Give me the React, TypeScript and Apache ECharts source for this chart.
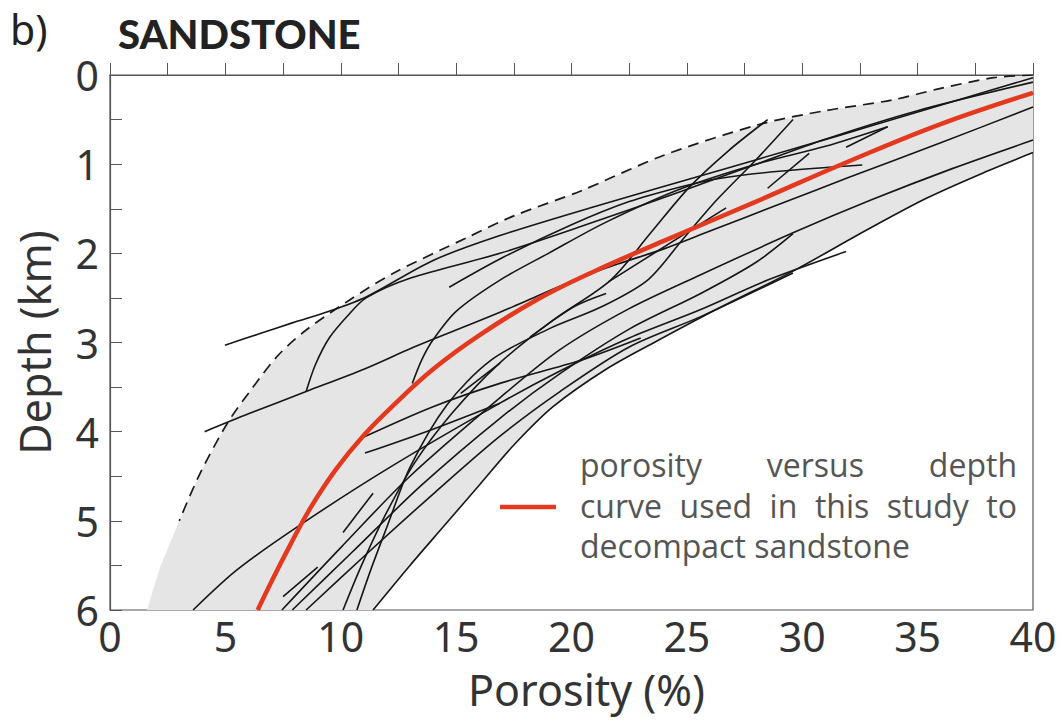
import React, { useEffect, useRef } from "react";
import * as echarts from "echarts";

// ---- data: [porosity %, depth km] ----
const xTicks = [0, 5, 10, 15, 20, 25, 30, 35, 40];
const yTicks = [0, 1, 2, 3, 4, 5, 6];

const redCurve = [[40,0.2],[36,0.55],[32,0.97],[28,1.42],[24,1.86],[21,2.2],[18.5,2.52],[16,2.92],[14,3.3],[12.3,3.7],[11,4.04],[9.8,4.42],[8.7,4.85],[7.75,5.3],[7.0,5.68],[6.4,6]];

const dashedEnvelope = [[40,0],[38.3,0.03],[36,0.15],[33.9,0.28],[31,0.4],[28.2,0.55],[24,0.9],[20.4,1.3],[17.5,1.58],[15.5,1.82],[12.3,2.22],[10.4,2.52],[8.5,2.86],[7.3,3.14],[6.2,3.5],[5.1,3.9],[3.9,4.47],[3.0,5.0]];
const envelopeTail = [[3.0,5.0],[2.2,5.5],[1.6,6]];

const lineR1 = [[11.4,6],[13,5.5],[14.5,5.05],[16,4.6],[17.5,4.15],[19.2,3.72],[21.5,3.3],[23.8,2.97],[26.5,2.6],[29.6,2.2],[32.5,1.78],[35.4,1.38],[38,1.08],[40,0.87]];
const lineR2 = [[7.45,6],[10,5.3],[13,4.5],[16.9,3.62],[19.5,3.08],[22.5,2.62],[25.6,2.24],[29.6,1.77],[33,1.4],[36.5,1.05],[40,0.73]];
const lineC1 = [[4.98,3.03],[6.5,2.9],[7.9,2.78],[9.5,2.65],[11.1,2.49],[14,2.08],[16.9,1.8],[21.2,1.46],[26.4,1.07],[30,0.8],[33,0.57],[36.5,0.3],[40,0.03]];
const lineC2 = [[8.5,3.55],[8.9,3.25],[9.5,2.95],[10.3,2.7],[11.1,2.5],[13,2.28],[16.9,2.0],[20.4,1.7],[24.8,1.3],[28,1.0],[31,0.72],[35,0.4],[40,0.08]];
const lineC3 = [[4.1,4.0],[6,3.8],[8.5,3.55],[11,3.3],[13.1,3.06],[15,2.86],[16.9,2.66],[18.6,2.47],[20.4,2.27],[22,2.12],[24,1.95],[26,1.75],[29,1.45],[32,1.15],[36,0.76],[40,0.36]];
const lineArc2 = [[13.1,3.46],[13.5,3.2],[14,2.97],[15,2.65],[16.9,2.3],[19,2.0],[21.5,1.65],[24.8,1.27],[28,1.0],[31,0.8],[33.7,0.58]];
const lineH = [[14.7,2.38],[17,2.05],[20,1.68],[22.5,1.42],[24.8,1.25],[26.4,1.16],[29,1.08],[32.6,1.01]];
const lineS1 = [[10.1,6],[10.9,5.5],[11.9,4.95],[13.2,4.35],[14.8,3.8],[16.8,3.25],[19.2,2.75],[21.7,2.3],[23.4,1.78],[25.1,1.26],[26.8,0.85],[28.5,0.5]];
const lineS2 = [[10.7,6],[11.3,5.55],[12,5.07],[13,4.4],[14.6,3.7],[16.5,3.2],[19,2.85],[21.3,2.6],[23.3,2.3],[24.8,1.85],[26.3,1.4],[28,0.95],[29.6,0.5]];
const lineM1 = [[3.6,6],[5.5,5.55],[8.1,5.07],[12,4.42],[16.9,3.68],[19.5,3.32],[22.5,2.95],[25.6,2.63],[28.5,2.3],[31.9,1.98]];
const lineB2 = [[7.9,6],[10.5,5.35],[13.5,4.6],[16.9,3.85],[19.5,3.35],[22.5,2.85],[25.6,2.45],[28,2.1],[29.6,1.78]];
const lineB3 = [[8.5,6],[11,5.4],[14,4.7],[16.9,4.05],[19.5,3.55],[22.5,3.05],[25.6,2.71],[29.6,2.22]];
const lineRed1 = [[11,4.06],[14,3.72],[17,3.45],[20.4,3.2],[23,2.95]];
const lineRed2 = [[11.05,4.24],[13.7,4.0],[16.9,3.68]];
const segA = [[10.1,5.13],[11.4,4.69]];
const segB = [[7.5,5.85],[9.0,5.52]];
const segC = [[31.9,0.81],[33.7,0.58]];
const segD = [[28.5,1.27],[30.3,0.88]];
const segE = [[21.6,2.32],[26.7,1.49]];
const segF = [[18.2,2.94],[20.1,2.6],[21.5,2.45]];
const segG = [[15.2,3.57],[16.9,3.23]];

const blackLines = [lineR1, lineR2, lineC1, lineC2, lineC3, lineArc2, lineH, lineS1, lineS2, lineM1, lineB2, lineB3, lineRed1, lineRed2, segA, segB, segC, segD, segE, segF, segG];

const legendLines = ["porosity versus depth", "curve used in this study to", "decompact sandstone"];

const FONT = "'Noto Sans', sans-serif";
const LEG_FONT_SIZE = 32;
const LEG_FONT = "'Open Sans', 'Noto Sans', sans-serif";

function justifiedWords(text: string, x0: number, x1: number, y: number) {
  const words = text.split(" ");
  const ctx = document.createElement("canvas").getContext("2d")!;
  ctx.font = `${LEG_FONT_SIZE}px 'Open Sans'`;
  const widths = words.map((w) => ctx.measureText(w).width);
  const total = widths.reduce((a, b) => a + b, 0);
  const gap = words.length > 1 ? (x1 - x0 - total) / (words.length - 1) : 0;
  let x = x0;
  return words.map((w, i) => {
    const el = { type: "text", x, y, style: { text: w, fontSize: LEG_FONT_SIZE, fill: "#555", fontFamily: LEG_FONT, textVerticalAlign: "middle", textAlign: "left" } };
    x += widths[i] + gap;
    return el;
  });
}

export default function App() {
  const ref = useRef<HTMLDivElement>(null);
  useEffect(() => {
    if (!ref.current) return;
    const chart = echarts.init(ref.current, undefined, { renderer: "svg" });
    const fillPoly = [...dashedEnvelope, ...envelopeTail.slice(1), ...lineR1];

    const series: any[] = [
      {
        type: "custom",
        silent: true,
        z: 1,
        data: [[0, 0]],
        renderItem: (_p: any, api: any) => ({
          type: "polygon",
          shape: { points: fillPoly.map((p) => api.coord(p)) },
          style: { fill: "#e5e5e5" },
        }),
      },
      {
        type: "line",
        data: dashedEnvelope,
        smooth: 0.3,
        symbol: "none",
        z: 3,
        lineStyle: { color: "#1a1a1a", width: 1.7, type: [11, 7] },
      },
      ...blackLines.map((d) => ({
        type: "line",
        data: d,
        smooth: 0.3,
        symbol: "none",
        z: 4,
        lineStyle: { color: "#161616", width: 1.6 },
      })),
      {
        type: "line",
        data: redCurve,
        smooth: 0.4,
        symbol: "none",
        z: 5,
        lineStyle: { color: "#e2391f", width: 4.5 },
      },
    ];

    chart.setOption({
      animation: false,
      grid: { left: 110, right: 29, top: 75, bottom: 114, show: true, borderColor: "#555", borderWidth: 1.2, backgroundColor: "transparent" },
      xAxis: {
        type: "value", min: 0, max: 40, interval: 5,
        axisLine: { lineStyle: { color: "#555", width: 1.2 } },
        axisTick: { inside: true, length: 12, lineStyle: { color: "#555" } },
        minorTick: { show: true, splitNumber: 2, length: 12, lineStyle: { color: "#555" } },
        splitLine: { show: false },
        axisLabel: { fontSize: 41, color: "#333", fontFamily: FONT, margin: 5, formatter: (v: number) => (xTicks.includes(v) ? String(v) : "") },
        name: "Porosity (%)", nameLocation: "middle", nameGap: 58,
        nameTextStyle: { fontSize: 43, color: "#333", fontFamily: FONT, padding: [0, 0, 0, 30] },
      },
      yAxis: {
        type: "value", min: 0, max: 6, interval: 1, inverse: true,
        axisLine: { lineStyle: { color: "#555", width: 1.2 } },
        axisTick: { inside: true, length: 12, lineStyle: { color: "#555" } },
        minorTick: { show: true, splitNumber: 2, length: 12, lineStyle: { color: "#555" } },
        splitLine: { show: false },
        axisLabel: { fontSize: 41, color: "#333", fontFamily: FONT, margin: 11, formatter: (v: number) => (yTicks.includes(v) ? String(v) : "") },
        name: "Depth (km)", nameLocation: "middle", nameGap: 54, nameRotate: 90,
        nameTextStyle: { fontSize: 43, color: "#333", fontFamily: FONT },
      },
      series,
      graphic: [
        { type: "text", left: 10, top: 8, style: { text: "b)", fontSize: 41, fill: "#222", fontFamily: FONT } },
        { type: "text", left: 118, top: 14, style: { text: "SANDSTONE", fontSize: 40, fontWeight: 900, fill: "#222", fontFamily: "Lato, 'Noto Sans', sans-serif" } },
        { type: "line", shape: { x1: 500, y1: 507, x2: 556, y2: 507 }, style: { stroke: "#e2391f", lineWidth: 4.5 } },
        ...justifiedWords(legendLines[0], 580, 1017, 464),
        ...justifiedWords(legendLines[1], 580, 1017, 505),
        { type: "text", x: 580, y: 545, style: { text: legendLines[2], fontSize: LEG_FONT_SIZE, fill: "#555", fontFamily: LEG_FONT, textVerticalAlign: "middle", textAlign: "left" } },
      ],
    });
    return () => chart.dispose();
  }, []);
  return <div ref={ref} style={{ position: "fixed", left: 0, top: 0, width: 1062, height: 724, background: "#fff" }} />;
}
